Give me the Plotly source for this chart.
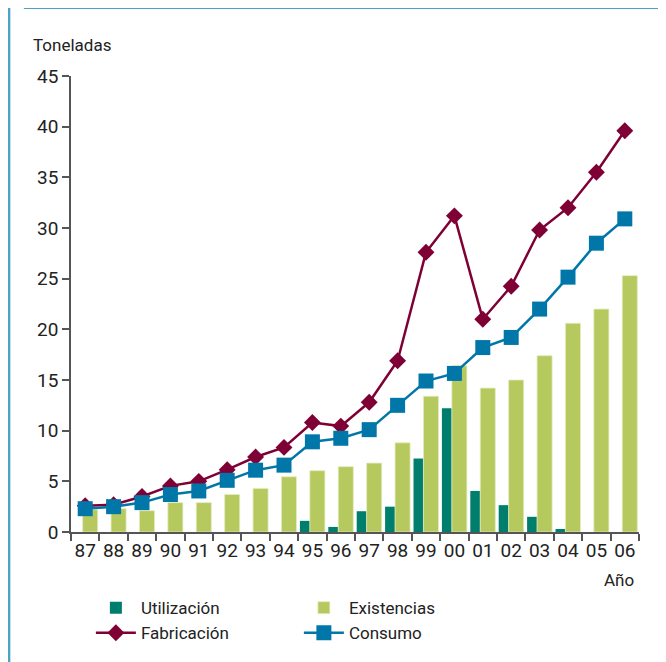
import plotly.graph_objects as go

years = ["87", "88", "89", "90", "91", "92", "93", "94", "95", "96",
         "97", "98", "99", "00", "01", "02", "03", "04", "05", "06"]

utilizacion = [0, 0, 0, 0, 0, 0, 0, 0, 1.1, 0.5,
               2.05, 2.5, 7.25, 12.2, 4.05, 2.65, 1.5, 0.3, 0, 0]
existencias = [2.2, 2.3, 2.1, 2.9, 2.9, 3.7, 4.3, 5.45, 6.05, 6.45,
               6.8, 8.8, 13.4, 16.4, 14.2, 15.0, 17.4, 20.6, 22.0, 25.3]
fabricacion = [2.6, 2.7, 3.5, 4.55, 5.0, 6.15, 7.4, 8.35, 10.8, 10.45,
               12.8, 16.9, 27.6, 31.2, 21.0, 24.25, 29.8, 32.0, 35.5, 39.6]
consumo = [2.3, 2.5, 2.9, 3.7, 4.05, 5.1, 6.1, 6.6, 8.9, 9.25,
           10.1, 12.5, 14.9, 15.65, 18.2, 19.2, 22.0, 25.15, 28.5, 30.9]

y_ticks = [0, 5, 10, 15, 20, 25, 30, 35, 40, 45]

TEAL = "#007E6D"
GREEN = "#B5C95F"
MAROON = "#7F0035"
BLUE = "#0077A8"
BORDER = "#4EA3C4"
TXT = "#222222"
FONT = "Roboto, sans-serif"

fig = go.Figure()
fig.add_trace(go.Bar(x=years, y=utilizacion, name="Utilización",
                     marker=dict(color=TEAL, line=dict(width=0)),
                     width=0.35, offset=-0.44))
fig.add_trace(go.Bar(x=years, y=existencias, name="Existencias",
                     marker=dict(color=GREEN, line=dict(color="#E4ECC0", width=0.8)),
                     width=0.53, offset=-0.09))
fig.add_trace(go.Scatter(x=years, y=fabricacion, name="Fabricación", mode="lines+markers",
                         line=dict(color=MAROON, width=2.5),
                         marker=dict(symbol="diamond", size=13, color=MAROON)))
fig.add_trace(go.Scatter(x=years, y=consumo, name="Consumo", mode="lines+markers",
                         line=dict(color=BLUE, width=2.5),
                         marker=dict(symbol="square", size=15, color=BLUE)))

fig.update_layout(
    width=658, height=654,
    margin=dict(l=63, r=27, t=68, b=129),
    paper_bgcolor="white", plot_bgcolor="white",
    barmode="overlay",
    font=dict(family=FONT, size=17, color=TXT),
    showlegend=True,
    legend=dict(orientation="h", x=0.035, xanchor="left", y=-0.125, yanchor="top",
                entrywidth=153, entrywidthmode="pixels",
                font=dict(size=17, color=TXT), traceorder="normal",
                itemwidth=40),
    xaxis=dict(type="category", showline=True, linecolor="#555555", linewidth=1.5,
               ticks="outside", ticklen=7, tickcolor="#555555", tickwidth=1.5,
               tickson="boundaries", showgrid=False, zeroline=False, tickangle=0,
               tickfont=dict(size=19, color=TXT), range=[-0.5, 19.5]),
    yaxis=dict(range=[0, 45], tickvals=y_ticks, showline=True, linecolor="#555555",
               linewidth=1.5, ticks="outside", ticklen=7, tickcolor="#555555",
               tickwidth=1.5, showgrid=False, zeroline=False,
               tickfont=dict(size=19, color=TXT)),
    annotations=[
        dict(text="Toneladas", xref="paper", yref="paper", x=-0.07, y=1.069,
             xanchor="left", yanchor="middle", showarrow=False,
             font=dict(size=17, color=TXT)),
        dict(text="Año", xref="paper", yref="paper", x=0.995, y=-0.105,
             xanchor="right", yanchor="middle", showarrow=False,
             font=dict(size=17, color=TXT)),
    ],
    shapes=[
        dict(type="line", xref="paper", yref="paper", x0=-0.109, x1=-0.109,
             y0=1.17, y1=-0.285, line=dict(color=BORDER, width=2.5)),
        dict(type="line", xref="paper", yref="paper", x0=-0.083, x1=1.05,
             y0=1.149, y1=1.149, line=dict(color=BORDER, width=2)),
    ],
)

fig.write_html("out.html")
